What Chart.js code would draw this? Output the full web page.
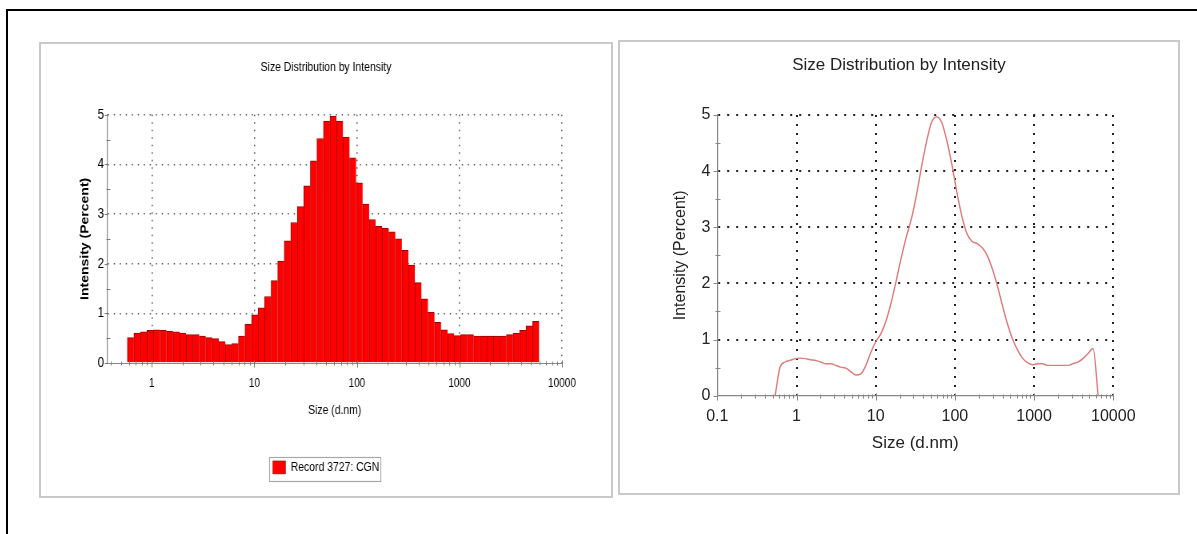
<!DOCTYPE html>
<html>
<head>
<meta charset="utf-8">
<script src="https://cdn.jsdelivr.net/npm/chart.js@4.4.0/dist/chart.umd.min.js"></script>
<style>
    html, body { margin: 0; padding: 0; background: #fff; }
    body { width: 1197px; height: 534px; position: relative; overflow: hidden; }
    #moldura { position: absolute; left: 6px; top: 9px; width: 1300px; height: 600px; border-left: 2px solid #000; border-top: 2px solid #000; }
    .painel { position: absolute; border: 2px solid #c9c9c9; background: #fff; }
    canvas { position: absolute; }
    /* o painel da esquerda tem o texto estreito: o canvas e comprimido na horizontal */
    #histograma { transform: scaleX(0.8); transform-origin: 0 0; }
</style>
</head>
<body>
<div id="moldura"></div>
<div class="painel" style="left:39px; top:42px; width:570px; height:452px;"></div>
<div class="painel" style="left:618px; top:40px; width:558px; height:451px;"></div>
<canvas id="histograma" width="710" height="450" style="left:42px; top:45px;"></canvas>
<canvas id="curva" width="556" height="451" style="left:621px; top:42px;"></canvas>

<script>
// classes de tamanho (d.nm)
const sizes = [0.6213, 0.7195, 0.8332, 0.9649, 1.117, 1.294, 1.499, 1.736, 2.010, 2.328,
    2.696, 3.122, 3.615, 4.187, 4.849, 5.615, 6.503, 7.531, 8.721, 10.10,
    11.70, 13.54, 15.69, 18.17, 21.04, 24.36, 28.21, 32.67, 37.84, 43.82,
    50.75, 58.77, 68.06, 78.82, 91.28, 105.7, 122.4, 141.8, 164.2, 190.1,
    220.2, 255.0, 295.3, 342.0, 396.1, 458.7, 531.2, 615.1, 712.4, 825.0,
    955.4, 1106, 1281, 1484, 1718, 1990, 2305, 2669, 3091, 3580,
    4145, 4801, 5560];

// intensidade (%) de cada classe
const intensity = [0.51, 0.60, 0.63, 0.66, 0.67, 0.66, 0.64, 0.63, 0.60, 0.57,
    0.57, 0.54, 0.51, 0.49, 0.43, 0.37, 0.39, 0.54, 0.78, 0.97,
    1.11, 1.34, 1.66, 2.05, 2.46, 2.83, 3.15, 3.57, 4.07, 4.52,
    4.87, 4.97, 4.87, 4.55, 4.13, 3.63, 3.20, 2.89, 2.75, 2.71,
    2.64, 2.50, 2.27, 1.97, 1.62, 1.29, 1.02, 0.82, 0.67, 0.59,
    0.55, 0.57, 0.57, 0.54, 0.54, 0.54, 0.54, 0.54, 0.57, 0.60,
    0.66, 0.75, 0.84];

// a curva da direita comeca e termina em zero
const curveSizes = [0.5365, ...sizes, 6439];
const curveIntensity = [0, ...intensity, 0];

const leftDecades = [1, 10, 100, 1000, 10000];
const rightDecades = [0.1, 1, 10, 100, 1000, 10000];

const ARIAL = '"Liberation Sans", Arial, sans-serif';
Chart.defaults.font.family = ARIAL;

// marcas pequenas nos eixos (1..9 em cada decada e meias unidades no y)
function marcasEixos(cor) {
    return {
        id: 'marcasEixos',
        afterDraw(chart) {
            const { ctx } = chart;
            const sx = chart.scales.x;
            const sy = chart.scales.y;
            const y0 = Math.round(sy.getPixelForValue(0)) + 0.5;
            const x0 = Math.round(sx.left) + 0.5;
            ctx.save();
            ctx.strokeStyle = cor;
            ctx.lineWidth = 1;
            ctx.beginPath();
            const e0 = Math.floor(Math.log10(sx.min));
            const e1 = Math.ceil(Math.log10(sx.max));
            for (let e = e0; e <= e1; e++) {
                for (let m = 1; m < 10; m++) {
                    const v = m * Math.pow(10, e);
                    if (v < sx.min * 0.999 || v > sx.max * 1.001) continue;
                    const px = Math.round(sx.getPixelForValue(v)) + 0.5;
                    if (m === 1) { ctx.moveTo(px, y0 - 3); ctx.lineTo(px, y0 + 4); }
                    else { ctx.moveTo(px, y0 - 2); ctx.lineTo(px, y0 + 2); }
                }
            }
            for (let k = 0; k <= sy.max * 2; k++) {
                const py = Math.round(sy.getPixelForValue(k / 2)) + 0.5;
                if (k % 2 === 0) { ctx.moveTo(x0 - 4, py); ctx.lineTo(x0, py); }
                else { ctx.moveTo(x0 - 2, py); ctx.lineTo(x0 + 3, py); }
            }
            ctx.stroke();
            ctx.restore();
        }
    };
}

// moldura em volta da legenda
const caixaLegenda = {
    id: 'caixaLegenda',
    afterDraw(chart) {
        const hb = chart.legend && chart.legend.legendHitBoxes[0];
        if (!hb) return;
        const { ctx } = chart;
        ctx.save();
        ctx.strokeStyle = '#a8a8a8';
        ctx.lineWidth = 1.2;
        ctx.strokeRect(Math.round(hb.left - 4) + 0.5, Math.round(hb.top - 4) + 0.5,
            Math.round(hb.width + 6), Math.round(hb.height + 11));
        ctx.restore();
    }
};

// eixo vazio a direita, so para reservar espaco sem deslocar titulo e legenda
function eixoVazio(largura) {
    return {
        position: 'right',
        display: true,
        afterFit: s => { s.width = largura; },
        ticks: { display: false },
        grid: { display: false, drawOnChartArea: false },
        border: { display: false }
    };
}

const ehDecada = v => Math.abs(Math.log10(v) - Math.round(Math.log10(v))) < 1e-9;

// ---------------- histograma (esquerda) ----------------
new Chart(document.getElementById('histograma'), {
    type: 'bar',
    data: {
        datasets: [{
            label: 'Record 3727: CGN',
            data: sizes.map((s, i) => ({ x: s, y: intensity[i] })),
            backgroundColor: '#ff0000',
            borderColor: '#9a0000',
            borderWidth: { left: 1, top: 1, right: 0, bottom: 0 },
            categoryPercentage: 1,
            barPercentage: 1
        }]
    },
    options: {
        responsive: false,
        animation: false,
        layout: { padding: { left: 0, right: 0, top: 0, bottom: 11.1 } },
        plugins: {
            title: {
                display: true,
                text: 'Size Distribution by Intensity',
                color: '#000',
                font: { size: 13, weight: 'normal' },
                padding: { top: 14.8, bottom: 39.3 }
            },
            legend: {
                position: 'bottom',
                labels: {
                    boxWidth: 16,
                    boxHeight: 13,
                    padding: 8,
                    color: '#000',
                    font: { size: 13 }
                }
            },
            tooltip: { enabled: false }
        },
        scales: {
            x: {
                type: 'logarithmic',
                min: 0.37,
                max: 10000,
                offset: false,
                afterBuildTicks: s => { s.ticks = leftDecades.map(v => ({ value: v })); },
                afterFit: s => { s.height = 89.9; },
                ticks: {
                    autoSkip: false, maxRotation: 0, padding: 13.3,
                    color: '#000', font: { size: 12.5 },
                    callback: v => ehDecada(v) ? String(v) : ''
                },
                grid: { offset: false, drawTicks: false, color: '#555', lineWidth: 1.5 },
                border: { color: '#888', width: 1, dash: [1.5, 6] },
                title: {
                    display: true, text: 'Size (d.nm)', color: '#000',
                    font: { size: 13 },
                    padding: { top: 0, bottom: 35.1 }
                }
            },
            y: {
                min: 0,
                max: 5,
                afterFit: s => { s.width = 81.9; },
                ticks: { stepSize: 1, padding: 4.4, color: '#000', font: { size: 14.5 } },
                grid: { drawTicks: false, lineWidth: 1.5, color: c => c.tick && c.tick.value > 0 ? '#555' : 'transparent' },
                border: { color: '#888', width: 1.2, dash: [1.5, 6] },
                title: {
                    display: true, text: 'Intensity (Percent)', color: '#000',
                    font: { size: 14, weight: 'bold' },
                    padding: { top: 45.3, bottom: 0 }
                }
            },
            reserva: eixoVazio(60)
        }
    },
    plugins: [marcasEixos('#777'), caixaLegenda]
});

// ---------------- curva (direita) ----------------
new Chart(document.getElementById('curva'), {
    type: 'line',
    data: {
        datasets: [{
            label: 'Intensity',
            data: curveSizes.map((s, i) => ({ x: s, y: curveIntensity[i] })),
            borderColor: '#e27b7b',
            borderWidth: 1.4,
            pointRadius: 0,
            fill: false,
            tension: 0.4,
            cubicInterpolationMode: 'monotone'
        }]
    },
    options: {
        responsive: false,
        animation: false,
        layout: { padding: 0 },
        plugins: {
            title: {
                display: true,
                text: 'Size Distribution by Intensity',
                color: '#222',
                font: { size: 17, weight: 'normal' },
                padding: { top: 12.8, bottom: 39.8 }
            },
            legend: { display: false },
            tooltip: { enabled: false }
        },
        scales: {
            x: {
                type: 'logarithmic',
                min: 0.1,
                max: 10000,
                afterBuildTicks: s => { s.ticks = rightDecades.map(v => ({ value: v })); },
                afterFit: s => { s.height = 97.3; },
                ticks: {
                    autoSkip: false, maxRotation: 0, padding: 11.4,
                    color: '#222', font: { size: 16 },
                    callback: v => ehDecada(v) ? String(v) : ''
                },
                grid: { drawTicks: false, lineWidth: 2, color: c => c.tick && c.tick.value > 0.1 ? '#222' : 'transparent' },
                border: { color: '#888', width: 1.2, dash: [2, 7] },
                title: {
                    display: true, text: 'Size (d.nm)', color: '#222',
                    font: { size: 17 },
                    padding: { top: 0, bottom: 39.8 }
                }
            },
            y: {
                min: 0,
                max: 5,
                afterFit: s => { s.width = 96.3; },
                ticks: { stepSize: 1, padding: 7, color: '#222', font: { size: 16 } },
                grid: { drawTicks: false, lineWidth: 2, color: c => c.tick && c.tick.value > 0 ? '#222' : 'transparent' },
                border: { color: '#888', width: 1.2, dash: [2, 7] },
                title: {
                    display: true, text: 'Intensity (Percent)', color: '#222',
                    font: { size: 16 },
                    padding: { top: 50.2, bottom: 0 }
                }
            },
            reserva: eixoVazio(63.7)
        }
    },
    plugins: [marcasEixos('#888')]
});
</script>
</body>
</html>
